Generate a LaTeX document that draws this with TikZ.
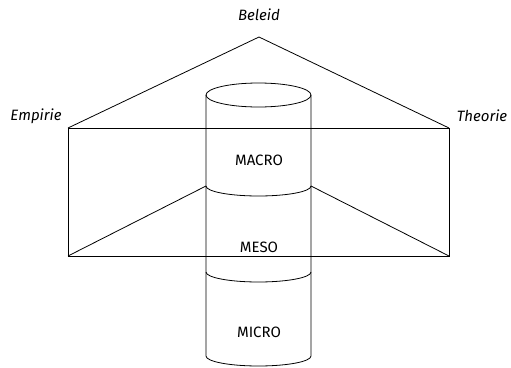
\documentclass[tikz,border=0pt]{standalone}
\usepackage{fontspec}
\setmainfont{Fira Sans}[Scale=1.0]
\begin{document}
\begin{tikzpicture}[x=1pt, y=-1pt, line width=0.8pt,
  lab/.style={font=\fontsize{15}{18}\selectfont\itshape, inner sep=0pt},
  lvl/.style={font=\fontsize{15}{18}\selectfont, inner sep=0pt}]
\useasboundingbox (0,0) rectangle (511,367);
% corners of the triangle and the frame
\coordinate (apex) at (259,37);
\coordinate (el) at (68,128);
\coordinate (er) at (449,128);
\coordinate (bl) at (68,256);
\coordinate (br) at (449,256);
\coordinate (ml) at (206,186);
\coordinate (mr) at (311,186);
% cylinder
\draw (258.5,95) ellipse [x radius=52.5, y radius=12];
\draw (206,95) -- (206,356) arc[start angle=180, end angle=0, x radius=52.5, y radius=10] -- (311,95);
\draw (ml) arc[start angle=180, end angle=0, x radius=52.5, y radius=10];
\draw (206,272) arc[start angle=180, end angle=0, x radius=52.5, y radius=10];
% triangle and frame
\draw (el) -- (apex) -- (er);
\draw (el) -- (er) -- (br) -- (bl) -- cycle;
\draw (bl) -- (ml);
\draw (br) -- (mr);
% labels
\node[lab] (beleid) at (259,15) {Beleid};
\node[lab] (empirie) at (36,116) {Empirie};
\node[lab] (theorie) at (482,116) {Theorie};
\node[lvl] (macro) at (259,160) {MACRO};
\node[lvl] (meso) at (259,247) {MESO};
\node[lvl] (micro) at (259,332) {MICRO};
\end{tikzpicture}
\end{document}
